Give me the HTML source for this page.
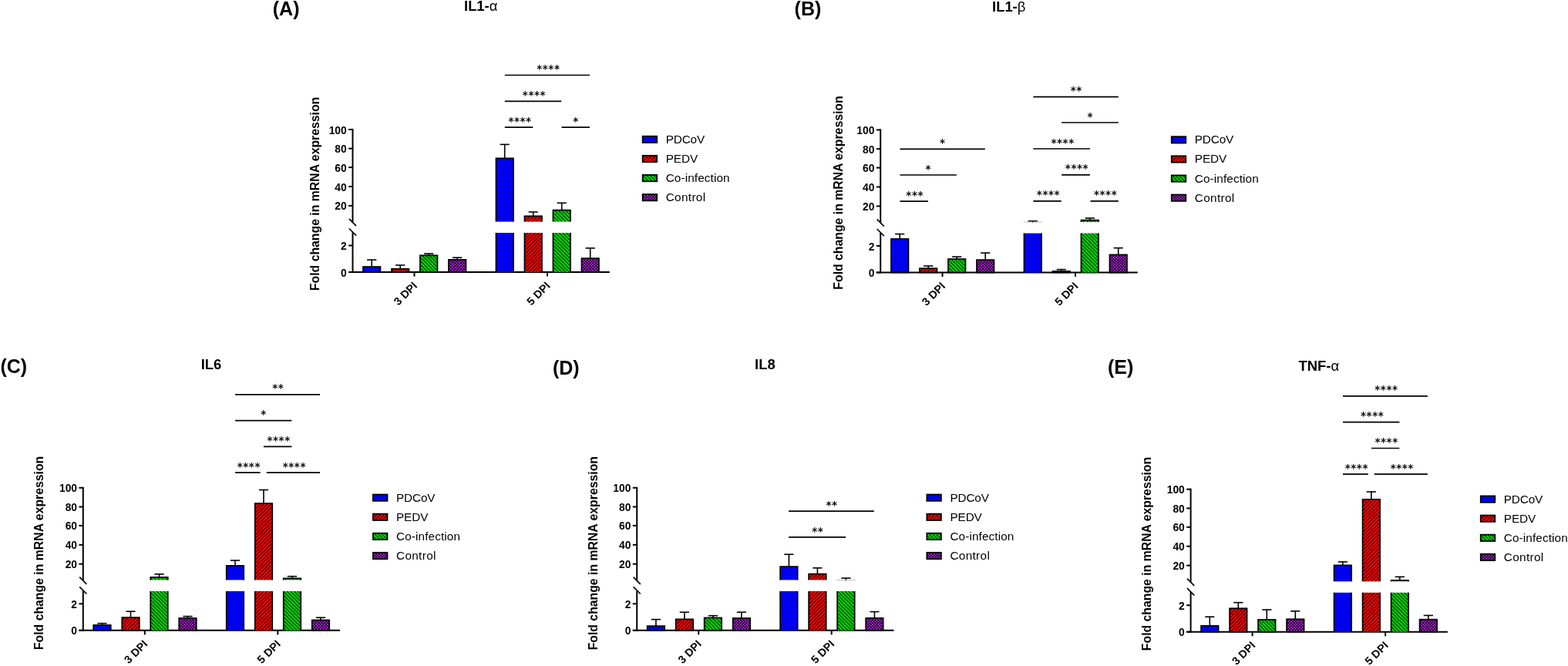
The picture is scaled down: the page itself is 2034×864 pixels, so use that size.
<!DOCTYPE html>
<html><head><meta charset="utf-8"><title>Cytokine expression</title>
<style>
html,body{margin:0;padding:0;background:#fff;}
svg{display:block;}
text{font-family:'Liberation Sans', Arial, sans-serif;fill:#000;}
.ax{stroke:#000;stroke-width:2.0;stroke-linecap:butt;}
.brk{stroke:#000;stroke-width:1.7;}
.eb{stroke:#000;stroke-width:1.6;}
.bar{stroke:#000;stroke-width:1.7;}
.sg{stroke:#000;stroke-width:1.7;}
.tk{font-weight:bold;font-size:13.8px;text-anchor:end;}
.xl{font-weight:bold;font-size:14.3px;text-anchor:end;}
.yl{font-weight:bold;font-size:15.8px;text-anchor:middle;}
.tt{font-weight:bold;font-size:18.4px;text-anchor:middle;}
.gr{font-weight:normal;}
.pl{font-weight:bold;font-size:25px;}
.lg{font-size:15.3px;}
.as{font-family:'DejaVu Sans', sans-serif;font-weight:bold;font-size:13.4px;text-anchor:middle;letter-spacing:0.55px;}
</style></head>
<body>
<svg width="2034" height="864" viewBox="0 0 2034 864">
<rect width="2034" height="864" fill="#fff"/>
<defs>
<pattern id="pBlue" patternUnits="userSpaceOnUse" width="3.76" height="7.52">
<rect width="3.76" height="7.52" fill="#0000ff"/>
<rect x="0.9" y="0.9" width="1.1" height="1.1" fill="#00006a"/>
<rect x="2.78" y="4.66" width="1.1" height="1.1" fill="#00006a"/>
</pattern>
<pattern id="pRed" patternUnits="userSpaceOnUse" width="4.7" height="4.7">
<rect width="4.7" height="4.7" fill="#ff0000"/>
<path d="M-1,1 L1,-1 M0,4.7 L4.7,0 M3.7,5.7 L5.7,3.7" stroke="#000" stroke-width="0.95"/>
</pattern>
<pattern id="pGreen" patternUnits="userSpaceOnUse" width="4.7" height="4.7">
<rect width="4.7" height="4.7" fill="#00dd00"/>
<path d="M-1,3.7 L1,5.7 M0,0 L4.7,4.7 M3.7,-1 L5.7,1" stroke="#000" stroke-width="0.95"/>
</pattern>
<pattern id="pPurple" patternUnits="userSpaceOnUse" width="3.72" height="3.72">
<rect width="3.72" height="3.72" fill="#c020f0"/>
<rect x="0" y="0" width="1.86" height="1.86" fill="#000"/>
<rect x="1.86" y="1.86" width="1.86" height="1.86" fill="#000"/>
</pattern>
</defs>
<g><line x1="457.5" y1="167" x2="457.5" y2="288.4" class="ax"/>
<line x1="457.5" y1="301.5" x2="457.5" y2="354" class="ax"/>
<line x1="452.9" y1="283.9" x2="462.1" y2="293.1" class="brk"/>
<line x1="452.9" y1="296.5" x2="462.1" y2="305.7" class="brk"/>
<line x1="452.1" y1="266.9" x2="457.5" y2="266.9" class="ax"/>
<text x="449.7" y="272.4" class="tk">20</text>
<line x1="452.1" y1="242" x2="457.5" y2="242" class="ax"/>
<text x="449.7" y="247.5" class="tk">40</text>
<line x1="452.1" y1="217.1" x2="457.5" y2="217.1" class="ax"/>
<text x="449.7" y="222.6" class="tk">60</text>
<line x1="452.1" y1="192.7" x2="457.5" y2="192.7" class="ax"/>
<text x="449.7" y="198.2" class="tk">80</text>
<line x1="452.1" y1="168" x2="457.5" y2="168" class="ax"/>
<text x="449.7" y="173.5" class="tk">100</text>
<line x1="452.1" y1="353" x2="457.5" y2="353" class="ax"/>
<text x="449.7" y="358.5" class="tk">0</text>
<line x1="452.1" y1="318.5" x2="457.5" y2="318.5" class="ax"/>
<text x="449.7" y="324" class="tk">2</text>
<line x1="452.1" y1="353" x2="790.8" y2="353" class="ax"/>
<line x1="537.5" y1="353" x2="537.5" y2="358.6" class="ax"/>
<text transform="translate(542.1,371.6) rotate(-45)" class="xl">3 DPI</text>
<line x1="710" y1="353" x2="710" y2="358.6" class="ax"/>
<text transform="translate(714.6,371.6) rotate(-45)" class="xl">5 DPI</text>
<line x1="482.2" y1="337.1" x2="482.2" y2="346.2" class="eb"/>
<line x1="476.1" y1="337.1" x2="488.3" y2="337.1" class="eb"/>
<rect x="470.95" y="346.05" width="22.5" height="6.95" fill="url(#pBlue)" class="bar"/>
<line x1="519.2" y1="344" x2="519.2" y2="348.9" class="eb"/>
<line x1="513.1" y1="344" x2="525.3" y2="344" class="eb"/>
<rect x="507.95" y="348.75" width="22.5" height="4.25" fill="url(#pRed)" class="bar"/>
<line x1="556.2" y1="329.1" x2="556.2" y2="331.5" class="eb"/>
<line x1="550.1" y1="329.1" x2="562.3" y2="329.1" class="eb"/>
<rect x="544.95" y="331.35" width="22.5" height="21.65" fill="url(#pGreen)" class="bar"/>
<line x1="593.2" y1="334.2" x2="593.2" y2="337" class="eb"/>
<line x1="587.1" y1="334.2" x2="599.3" y2="334.2" class="eb"/>
<rect x="581.95" y="336.85" width="22.5" height="16.15" fill="url(#pPurple)" class="bar"/>
<line x1="654.7" y1="187.4" x2="654.7" y2="205.6" class="eb"/>
<line x1="648.6" y1="187.4" x2="660.8" y2="187.4" class="eb"/>
<rect x="643.2" y="302.1" width="23" height="50.9" fill="url(#pBlue)"/>
<path d="M643.45,302.1 V353 M665.95,302.1 V353" class="bar" fill="none"/>
<rect x="643.2" y="205.2" width="23" height="82.4" fill="url(#pBlue)"/>
<path d="M643.45,287.6 V205.45 H665.95 V287.6" class="bar" fill="none"/>
<line x1="691.7" y1="275" x2="691.7" y2="280.6" class="eb"/>
<line x1="685.6" y1="275" x2="697.8" y2="275" class="eb"/>
<rect x="680.2" y="302.1" width="23" height="50.9" fill="url(#pRed)"/>
<path d="M680.45,302.1 V353 M702.95,302.1 V353" class="bar" fill="none"/>
<rect x="680.2" y="280.2" width="23" height="7.4" fill="url(#pRed)"/>
<path d="M680.45,287.6 V280.45 H702.95 V287.6" class="bar" fill="none"/>
<line x1="728.7" y1="263.3" x2="728.7" y2="272.7" class="eb"/>
<line x1="722.6" y1="263.3" x2="734.8" y2="263.3" class="eb"/>
<rect x="717.2" y="302.1" width="23" height="50.9" fill="url(#pGreen)"/>
<path d="M717.45,302.1 V353 M739.95,302.1 V353" class="bar" fill="none"/>
<rect x="717.2" y="272.3" width="23" height="15.3" fill="url(#pGreen)"/>
<path d="M717.45,287.6 V272.55 H739.95 V287.6" class="bar" fill="none"/>
<line x1="765.7" y1="321.9" x2="765.7" y2="335.3" class="eb"/>
<line x1="759.6" y1="321.9" x2="771.8" y2="321.9" class="eb"/>
<rect x="754.45" y="335.15" width="22.5" height="17.85" fill="url(#pPurple)" class="bar"/>
<line x1="654.8" y1="97.5" x2="765" y2="97.5" class="sg"/>
<text x="711.38" y="94.1" class="as">****</text>
<line x1="654.8" y1="131.3" x2="728.2" y2="131.3" class="sg"/>
<text x="692.98" y="127.9" class="as">****</text>
<line x1="654.8" y1="165.1" x2="691.3" y2="165.1" class="sg"/>
<text x="674.53" y="161.7" class="as">****</text>
<line x1="728.5" y1="165.1" x2="765" y2="165.1" class="sg"/>
<text x="747.03" y="161.7" class="as">*</text>
<rect x="833.65" y="176.75" width="18.5" height="8.3" fill="url(#pBlue)" stroke="#000" stroke-width="1.8"/>
<text x="863.7" y="185.8" class="lg" textLength="50.5" lengthAdjust="spacing">PDCoV</text>
<rect x="833.65" y="201.85" width="18.5" height="8.3" fill="url(#pRed)" stroke="#000" stroke-width="1.8"/>
<text x="863.7" y="210.9" class="lg" textLength="41.4" lengthAdjust="spacing">PEDV</text>
<rect x="833.65" y="226.95" width="18.5" height="8.3" fill="url(#pGreen)" stroke="#000" stroke-width="1.8"/>
<text x="863.7" y="236" class="lg" textLength="82.9" lengthAdjust="spacing">Co-infection</text>
<rect x="833.65" y="252.05" width="18.5" height="8.3" fill="url(#pPurple)" stroke="#000" stroke-width="1.8"/>
<text x="863.7" y="261.1" class="lg" textLength="51.4" lengthAdjust="spacing">Control</text>
<text transform="translate(413.6,251.4) rotate(-90)" class="yl">Fold change in mRNA expression</text>
<text x="623.7" y="14.3" class="tt">IL1-<tspan class="gr">α</tspan></text>
<text x="353.8" y="20" class="pl">(A)</text></g>
<g><line x1="1142.2" y1="167.5" x2="1142.2" y2="288.9" class="ax"/>
<line x1="1142.2" y1="302" x2="1142.2" y2="354.5" class="ax"/>
<line x1="1137.6" y1="284.4" x2="1146.8" y2="293.6" class="brk"/>
<line x1="1137.6" y1="297" x2="1146.8" y2="306.2" class="brk"/>
<line x1="1136.8" y1="267.4" x2="1142.2" y2="267.4" class="ax"/>
<text x="1134.4" y="272.9" class="tk">20</text>
<line x1="1136.8" y1="242.5" x2="1142.2" y2="242.5" class="ax"/>
<text x="1134.4" y="248" class="tk">40</text>
<line x1="1136.8" y1="217.6" x2="1142.2" y2="217.6" class="ax"/>
<text x="1134.4" y="223.1" class="tk">60</text>
<line x1="1136.8" y1="193.2" x2="1142.2" y2="193.2" class="ax"/>
<text x="1134.4" y="198.7" class="tk">80</text>
<line x1="1136.8" y1="168.5" x2="1142.2" y2="168.5" class="ax"/>
<text x="1134.4" y="174" class="tk">100</text>
<line x1="1136.8" y1="353.5" x2="1142.2" y2="353.5" class="ax"/>
<text x="1134.4" y="359" class="tk">0</text>
<line x1="1136.8" y1="319" x2="1142.2" y2="319" class="ax"/>
<text x="1134.4" y="324.5" class="tk">2</text>
<line x1="1136.8" y1="353.5" x2="1475.8" y2="353.5" class="ax"/>
<line x1="1222.5" y1="353.5" x2="1222.5" y2="359.1" class="ax"/>
<text transform="translate(1227.1,372.1) rotate(-45)" class="xl">3 DPI</text>
<line x1="1395" y1="353.5" x2="1395" y2="359.1" class="ax"/>
<text transform="translate(1399.6,372.1) rotate(-45)" class="xl">5 DPI</text>
<line x1="1167.2" y1="303.6" x2="1167.2" y2="310.1" class="eb"/>
<line x1="1161.1" y1="303.6" x2="1173.3" y2="303.6" class="eb"/>
<rect x="1155.95" y="309.95" width="22.5" height="43.55" fill="url(#pBlue)" class="bar"/>
<line x1="1204.2" y1="345" x2="1204.2" y2="348.3" class="eb"/>
<line x1="1198.1" y1="345" x2="1210.3" y2="345" class="eb"/>
<rect x="1192.95" y="348.15" width="22.5" height="5.35" fill="url(#pRed)" class="bar"/>
<line x1="1241.2" y1="333.1" x2="1241.2" y2="336.2" class="eb"/>
<line x1="1235.1" y1="333.1" x2="1247.3" y2="333.1" class="eb"/>
<rect x="1229.95" y="336.05" width="22.5" height="17.45" fill="url(#pGreen)" class="bar"/>
<line x1="1278.2" y1="328.1" x2="1278.2" y2="337.3" class="eb"/>
<line x1="1272.1" y1="328.1" x2="1284.3" y2="328.1" class="eb"/>
<rect x="1266.95" y="337.15" width="22.5" height="16.35" fill="url(#pPurple)" class="bar"/>
<line x1="1339.7" y1="286.8" x2="1339.7" y2="288.9" class="eb"/>
<line x1="1333.6" y1="286.8" x2="1345.8" y2="286.8" class="eb"/>
<rect x="1328.2" y="302.6" width="23" height="50.9" fill="url(#pBlue)"/>
<path d="M1328.45,302.6 V353.5 M1350.95,302.6 V353.5" class="bar" fill="none"/>
<line x1="1327.6" y1="288.1" x2="1351.8" y2="288.1" stroke="#bbb" stroke-width="1"/>
<line x1="1376.7" y1="349.6" x2="1376.7" y2="352" class="eb"/>
<line x1="1370.6" y1="349.6" x2="1382.8" y2="349.6" class="eb"/>
<rect x="1365.45" y="351.85" width="22.5" height="1.65" fill="url(#pRed)" class="bar"/>
<line x1="1413.7" y1="283" x2="1413.7" y2="285.8" class="eb"/>
<line x1="1407.6" y1="283" x2="1419.8" y2="283" class="eb"/>
<rect x="1402.2" y="302.6" width="23" height="50.9" fill="url(#pGreen)"/>
<path d="M1402.45,302.6 V353.5 M1424.95,302.6 V353.5" class="bar" fill="none"/>
<rect x="1402.2" y="285.4" width="23" height="2.7" fill="url(#pGreen)"/>
<path d="M1402.45,288.1 V285.65 H1424.95 V288.1" class="bar" fill="none"/>
<line x1="1450.7" y1="321.7" x2="1450.7" y2="330.6" class="eb"/>
<line x1="1444.6" y1="321.7" x2="1456.8" y2="321.7" class="eb"/>
<rect x="1439.45" y="330.45" width="22.5" height="23.05" fill="url(#pPurple)" class="bar"/>
<line x1="1167.4" y1="193.4" x2="1277.8" y2="193.4" class="sg"/>
<text x="1222.88" y="190" class="as">*</text>
<line x1="1167.4" y1="227" x2="1240.8" y2="227" class="sg"/>
<text x="1204.38" y="223.6" class="as">*</text>
<line x1="1167.4" y1="261.1" x2="1203.8" y2="261.1" class="sg"/>
<text x="1186.68" y="257.7" class="as">***</text>
<line x1="1340.3" y1="125.6" x2="1450.8" y2="125.6" class="sg"/>
<text x="1396.23" y="122.2" class="as">**</text>
<line x1="1377.1" y1="159" x2="1450.8" y2="159" class="sg"/>
<text x="1414.23" y="155.6" class="as">*</text>
<line x1="1340.3" y1="193" x2="1413.9" y2="193" class="sg"/>
<text x="1378.58" y="189.6" class="as">****</text>
<line x1="1377.1" y1="226.8" x2="1413.9" y2="226.8" class="sg"/>
<text x="1396.98" y="223.4" class="as">****</text>
<line x1="1340.3" y1="260.8" x2="1376.7" y2="260.8" class="sg"/>
<text x="1359.98" y="257.4" class="as">****</text>
<line x1="1414.5" y1="260.8" x2="1450.8" y2="260.8" class="sg"/>
<text x="1434.13" y="257.4" class="as">****</text>
<rect x="1519.75" y="177.25" width="18.5" height="8.3" fill="url(#pBlue)" stroke="#000" stroke-width="1.8"/>
<text x="1549.8" y="186.3" class="lg" textLength="50.5" lengthAdjust="spacing">PDCoV</text>
<rect x="1519.75" y="202.35" width="18.5" height="8.3" fill="url(#pRed)" stroke="#000" stroke-width="1.8"/>
<text x="1549.8" y="211.4" class="lg" textLength="41.4" lengthAdjust="spacing">PEDV</text>
<rect x="1519.75" y="227.45" width="18.5" height="8.3" fill="url(#pGreen)" stroke="#000" stroke-width="1.8"/>
<text x="1549.8" y="236.5" class="lg" textLength="82.9" lengthAdjust="spacing">Co-infection</text>
<rect x="1519.75" y="252.55" width="18.5" height="8.3" fill="url(#pPurple)" stroke="#000" stroke-width="1.8"/>
<text x="1549.8" y="261.6" class="lg" textLength="51.4" lengthAdjust="spacing">Control</text>
<text transform="translate(1092.5,250) rotate(-90)" class="yl">Fold change in mRNA expression</text>
<text x="1308.7" y="14.8" class="tt">IL1-<tspan class="gr">β</tspan></text>
<text x="1030.6" y="20" class="pl">(B)</text></g>
<g><line x1="107.8" y1="631.8" x2="107.8" y2="753.2" class="ax"/>
<line x1="107.8" y1="766.3" x2="107.8" y2="818.8" class="ax"/>
<line x1="103.2" y1="748.7" x2="112.4" y2="757.9" class="brk"/>
<line x1="103.2" y1="761.3" x2="112.4" y2="770.5" class="brk"/>
<line x1="102.4" y1="731.7" x2="107.8" y2="731.7" class="ax"/>
<text x="100" y="737.2" class="tk">20</text>
<line x1="102.4" y1="706.8" x2="107.8" y2="706.8" class="ax"/>
<text x="100" y="712.3" class="tk">40</text>
<line x1="102.4" y1="681.9" x2="107.8" y2="681.9" class="ax"/>
<text x="100" y="687.4" class="tk">60</text>
<line x1="102.4" y1="657.5" x2="107.8" y2="657.5" class="ax"/>
<text x="100" y="663" class="tk">80</text>
<line x1="102.4" y1="632.8" x2="107.8" y2="632.8" class="ax"/>
<text x="100" y="638.3" class="tk">100</text>
<line x1="102.4" y1="817.8" x2="107.8" y2="817.8" class="ax"/>
<text x="100" y="823.3" class="tk">0</text>
<line x1="102.4" y1="783.3" x2="107.8" y2="783.3" class="ax"/>
<text x="100" y="788.8" class="tk">2</text>
<line x1="102.4" y1="817.8" x2="441.1" y2="817.8" class="ax"/>
<line x1="187.8" y1="817.8" x2="187.8" y2="823.4" class="ax"/>
<text transform="translate(192.4,836.4) rotate(-45)" class="xl">3 DPI</text>
<line x1="360.3" y1="817.8" x2="360.3" y2="823.4" class="ax"/>
<text transform="translate(364.9,836.4) rotate(-45)" class="xl">5 DPI</text>
<line x1="132.5" y1="808.7" x2="132.5" y2="811.1" class="eb"/>
<line x1="126.4" y1="808.7" x2="138.6" y2="808.7" class="eb"/>
<rect x="121.25" y="810.95" width="22.5" height="6.85" fill="url(#pBlue)" class="bar"/>
<line x1="169.5" y1="793.2" x2="169.5" y2="801.2" class="eb"/>
<line x1="163.4" y1="793.2" x2="175.6" y2="793.2" class="eb"/>
<rect x="158.25" y="801.05" width="22.5" height="16.75" fill="url(#pRed)" class="bar"/>
<line x1="206.5" y1="744.8" x2="206.5" y2="749" class="eb"/>
<line x1="200.4" y1="744.8" x2="212.6" y2="744.8" class="eb"/>
<rect x="195" y="766.9" width="23" height="50.9" fill="url(#pGreen)"/>
<path d="M195.25,766.9 V817.8 M217.75,766.9 V817.8" class="bar" fill="none"/>
<rect x="195" y="748.6" width="23" height="3.8" fill="url(#pGreen)"/>
<path d="M195.25,752.4 V748.85 H217.75 V752.4" class="bar" fill="none"/>
<line x1="243.5" y1="799.6" x2="243.5" y2="802.1" class="eb"/>
<line x1="237.4" y1="799.6" x2="249.6" y2="799.6" class="eb"/>
<rect x="232.25" y="801.95" width="22.5" height="15.85" fill="url(#pPurple)" class="bar"/>
<line x1="305" y1="727" x2="305" y2="734.1" class="eb"/>
<line x1="298.9" y1="727" x2="311.1" y2="727" class="eb"/>
<rect x="293.5" y="766.9" width="23" height="50.9" fill="url(#pBlue)"/>
<path d="M293.75,766.9 V817.8 M316.25,766.9 V817.8" class="bar" fill="none"/>
<rect x="293.5" y="733.7" width="23" height="18.7" fill="url(#pBlue)"/>
<path d="M293.75,752.4 V733.95 H316.25 V752.4" class="bar" fill="none"/>
<line x1="342" y1="635.5" x2="342" y2="653.2" class="eb"/>
<line x1="335.9" y1="635.5" x2="348.1" y2="635.5" class="eb"/>
<rect x="330.5" y="766.9" width="23" height="50.9" fill="url(#pRed)"/>
<path d="M330.75,766.9 V817.8 M353.25,766.9 V817.8" class="bar" fill="none"/>
<rect x="330.5" y="652.8" width="23" height="99.6" fill="url(#pRed)"/>
<path d="M330.75,752.4 V653.05 H353.25 V752.4" class="bar" fill="none"/>
<line x1="379" y1="747.7" x2="379" y2="750.6" class="eb"/>
<line x1="372.9" y1="747.7" x2="385.1" y2="747.7" class="eb"/>
<rect x="367.5" y="766.9" width="23" height="50.9" fill="url(#pGreen)"/>
<path d="M367.75,766.9 V817.8 M390.25,766.9 V817.8" class="bar" fill="none"/>
<rect x="367.5" y="750.2" width="23" height="2.2" fill="url(#pGreen)"/>
<path d="M367.75,752.4 V750.45 H390.25 V752.4" class="bar" fill="none"/>
<line x1="416" y1="801.2" x2="416" y2="804.6" class="eb"/>
<line x1="409.9" y1="801.2" x2="422.1" y2="801.2" class="eb"/>
<rect x="404.75" y="804.45" width="22.5" height="13.35" fill="url(#pPurple)" class="bar"/>
<line x1="305.1" y1="511.8" x2="415" y2="511.8" class="sg"/>
<text x="360.73" y="508.4" class="as">**</text>
<line x1="305.1" y1="545.7" x2="378.4" y2="545.7" class="sg"/>
<text x="342.03" y="542.3" class="as">*</text>
<line x1="341.9" y1="579.3" x2="378.4" y2="579.3" class="sg"/>
<text x="361.63" y="575.9" class="as">****</text>
<line x1="305.1" y1="613.1" x2="337.6" y2="613.1" class="sg"/>
<text x="322.83" y="609.7" class="as">****</text>
<line x1="345.7" y1="613.1" x2="415" y2="613.1" class="sg"/>
<text x="381.83" y="609.7" class="as">****</text>
<rect x="483.95" y="641.55" width="18.5" height="8.3" fill="url(#pBlue)" stroke="#000" stroke-width="1.8"/>
<text x="514" y="650.6" class="lg" textLength="50.5" lengthAdjust="spacing">PDCoV</text>
<rect x="483.95" y="666.65" width="18.5" height="8.3" fill="url(#pRed)" stroke="#000" stroke-width="1.8"/>
<text x="514" y="675.7" class="lg" textLength="41.4" lengthAdjust="spacing">PEDV</text>
<rect x="483.95" y="691.75" width="18.5" height="8.3" fill="url(#pGreen)" stroke="#000" stroke-width="1.8"/>
<text x="514" y="700.8" class="lg" textLength="82.9" lengthAdjust="spacing">Co-infection</text>
<rect x="483.95" y="716.85" width="18.5" height="8.3" fill="url(#pPurple)" stroke="#000" stroke-width="1.8"/>
<text x="514" y="725.9" class="lg" textLength="51.4" lengthAdjust="spacing">Control</text>
<text transform="translate(56,717.4) rotate(-90)" class="yl">Fold change in mRNA expression</text>
<text x="274" y="479.1" class="tt">IL6</text>
<text x="0.4" y="484.2" class="pl">(C)</text></g>
<g><line x1="826.2" y1="631.8" x2="826.2" y2="753.2" class="ax"/>
<line x1="826.2" y1="766.3" x2="826.2" y2="818.8" class="ax"/>
<line x1="821.6" y1="748.7" x2="830.8" y2="757.9" class="brk"/>
<line x1="821.6" y1="761.3" x2="830.8" y2="770.5" class="brk"/>
<line x1="820.8" y1="731.7" x2="826.2" y2="731.7" class="ax"/>
<text x="818.4" y="737.2" class="tk">20</text>
<line x1="820.8" y1="706.8" x2="826.2" y2="706.8" class="ax"/>
<text x="818.4" y="712.3" class="tk">40</text>
<line x1="820.8" y1="681.9" x2="826.2" y2="681.9" class="ax"/>
<text x="818.4" y="687.4" class="tk">60</text>
<line x1="820.8" y1="657.5" x2="826.2" y2="657.5" class="ax"/>
<text x="818.4" y="663" class="tk">80</text>
<line x1="820.8" y1="632.8" x2="826.2" y2="632.8" class="ax"/>
<text x="818.4" y="638.3" class="tk">100</text>
<line x1="820.8" y1="817.8" x2="826.2" y2="817.8" class="ax"/>
<text x="818.4" y="823.3" class="tk">0</text>
<line x1="820.8" y1="783.3" x2="826.2" y2="783.3" class="ax"/>
<text x="818.4" y="788.8" class="tk">2</text>
<line x1="820.8" y1="817.8" x2="1159.5" y2="817.8" class="ax"/>
<line x1="906.2" y1="817.8" x2="906.2" y2="823.4" class="ax"/>
<text transform="translate(910.8,836.4) rotate(-45)" class="xl">3 DPI</text>
<line x1="1078.7" y1="817.8" x2="1078.7" y2="823.4" class="ax"/>
<text transform="translate(1083.3,836.4) rotate(-45)" class="xl">5 DPI</text>
<line x1="850.9" y1="803.6" x2="850.9" y2="812.3" class="eb"/>
<line x1="844.8" y1="803.6" x2="857" y2="803.6" class="eb"/>
<rect x="839.65" y="812.15" width="22.5" height="5.65" fill="url(#pBlue)" class="bar"/>
<line x1="887.9" y1="794.2" x2="887.9" y2="803.5" class="eb"/>
<line x1="881.8" y1="794.2" x2="894" y2="794.2" class="eb"/>
<rect x="876.65" y="803.35" width="22.5" height="14.45" fill="url(#pRed)" class="bar"/>
<line x1="924.9" y1="798.7" x2="924.9" y2="801.6" class="eb"/>
<line x1="918.8" y1="798.7" x2="931" y2="798.7" class="eb"/>
<rect x="913.65" y="801.45" width="22.5" height="16.35" fill="url(#pGreen)" class="bar"/>
<line x1="961.9" y1="794.2" x2="961.9" y2="802.1" class="eb"/>
<line x1="955.8" y1="794.2" x2="968" y2="794.2" class="eb"/>
<rect x="950.65" y="801.95" width="22.5" height="15.85" fill="url(#pPurple)" class="bar"/>
<line x1="1023.4" y1="719.2" x2="1023.4" y2="735.3" class="eb"/>
<line x1="1017.3" y1="719.2" x2="1029.5" y2="719.2" class="eb"/>
<rect x="1011.9" y="766.9" width="23" height="50.9" fill="url(#pBlue)"/>
<path d="M1012.15,766.9 V817.8 M1034.65,766.9 V817.8" class="bar" fill="none"/>
<rect x="1011.9" y="734.9" width="23" height="17.5" fill="url(#pBlue)"/>
<path d="M1012.15,752.4 V735.15 H1034.65 V752.4" class="bar" fill="none"/>
<line x1="1060.4" y1="736.8" x2="1060.4" y2="744.7" class="eb"/>
<line x1="1054.3" y1="736.8" x2="1066.5" y2="736.8" class="eb"/>
<rect x="1048.9" y="766.9" width="23" height="50.9" fill="url(#pRed)"/>
<path d="M1049.15,766.9 V817.8 M1071.65,766.9 V817.8" class="bar" fill="none"/>
<rect x="1048.9" y="744.3" width="23" height="8.1" fill="url(#pRed)"/>
<path d="M1049.15,752.4 V744.55 H1071.65 V752.4" class="bar" fill="none"/>
<line x1="1097.4" y1="750" x2="1097.4" y2="753.5" class="eb"/>
<line x1="1091.3" y1="750" x2="1103.5" y2="750" class="eb"/>
<rect x="1085.9" y="766.9" width="23" height="50.9" fill="url(#pGreen)"/>
<path d="M1086.15,766.9 V817.8 M1108.65,766.9 V817.8" class="bar" fill="none"/>
<line x1="1085.3" y1="752.4" x2="1109.5" y2="752.4" stroke="#bbb" stroke-width="1"/>
<line x1="1134.4" y1="793.6" x2="1134.4" y2="802" class="eb"/>
<line x1="1128.3" y1="793.6" x2="1140.5" y2="793.6" class="eb"/>
<rect x="1123.15" y="801.85" width="22.5" height="15.95" fill="url(#pPurple)" class="bar"/>
<line x1="1023" y1="663.1" x2="1133.8" y2="663.1" class="sg"/>
<text x="1079.08" y="659.7" class="as">**</text>
<line x1="1023" y1="696.9" x2="1097" y2="696.9" class="sg"/>
<text x="1060.68" y="693.5" class="as">**</text>
<rect x="1202.35" y="641.55" width="18.5" height="8.3" fill="url(#pBlue)" stroke="#000" stroke-width="1.8"/>
<text x="1232.4" y="650.6" class="lg" textLength="50.5" lengthAdjust="spacing">PDCoV</text>
<rect x="1202.35" y="666.65" width="18.5" height="8.3" fill="url(#pRed)" stroke="#000" stroke-width="1.8"/>
<text x="1232.4" y="675.7" class="lg" textLength="41.4" lengthAdjust="spacing">PEDV</text>
<rect x="1202.35" y="691.75" width="18.5" height="8.3" fill="url(#pGreen)" stroke="#000" stroke-width="1.8"/>
<text x="1232.4" y="700.8" class="lg" textLength="82.9" lengthAdjust="spacing">Co-infection</text>
<rect x="1202.35" y="716.85" width="18.5" height="8.3" fill="url(#pPurple)" stroke="#000" stroke-width="1.8"/>
<text x="1232.4" y="725.9" class="lg" textLength="51.4" lengthAdjust="spacing">Control</text>
<text transform="translate(775.1,717.7) rotate(-90)" class="yl">Fold change in mRNA expression</text>
<text x="992.4" y="479.1" class="tt">IL8</text>
<text x="716.9" y="485.7" class="pl">(D)</text></g>
<g><line x1="1544.6" y1="633.7" x2="1544.6" y2="755.1" class="ax"/>
<line x1="1544.6" y1="768.2" x2="1544.6" y2="820.7" class="ax"/>
<line x1="1540" y1="750.6" x2="1549.2" y2="759.8" class="brk"/>
<line x1="1540" y1="763.2" x2="1549.2" y2="772.4" class="brk"/>
<line x1="1539.2" y1="733.6" x2="1544.6" y2="733.6" class="ax"/>
<text x="1536.8" y="739.1" class="tk">20</text>
<line x1="1539.2" y1="708.7" x2="1544.6" y2="708.7" class="ax"/>
<text x="1536.8" y="714.2" class="tk">40</text>
<line x1="1539.2" y1="683.8" x2="1544.6" y2="683.8" class="ax"/>
<text x="1536.8" y="689.3" class="tk">60</text>
<line x1="1539.2" y1="659.4" x2="1544.6" y2="659.4" class="ax"/>
<text x="1536.8" y="664.9" class="tk">80</text>
<line x1="1539.2" y1="634.7" x2="1544.6" y2="634.7" class="ax"/>
<text x="1536.8" y="640.2" class="tk">100</text>
<line x1="1539.2" y1="819.7" x2="1544.6" y2="819.7" class="ax"/>
<text x="1536.8" y="825.2" class="tk">0</text>
<line x1="1539.2" y1="785.2" x2="1544.6" y2="785.2" class="ax"/>
<text x="1536.8" y="790.7" class="tk">2</text>
<line x1="1539.2" y1="819.7" x2="1877.9" y2="819.7" class="ax"/>
<line x1="1624.6" y1="819.7" x2="1624.6" y2="825.3" class="ax"/>
<text transform="translate(1629.2,838.3) rotate(-45)" class="xl">3 DPI</text>
<line x1="1797.1" y1="819.7" x2="1797.1" y2="825.3" class="ax"/>
<text transform="translate(1801.7,838.3) rotate(-45)" class="xl">5 DPI</text>
<line x1="1569.3" y1="800.2" x2="1569.3" y2="812" class="eb"/>
<line x1="1563.2" y1="800.2" x2="1575.4" y2="800.2" class="eb"/>
<rect x="1558.05" y="811.85" width="22.5" height="7.85" fill="url(#pBlue)" class="bar"/>
<line x1="1606.3" y1="781.7" x2="1606.3" y2="789.4" class="eb"/>
<line x1="1600.2" y1="781.7" x2="1612.4" y2="781.7" class="eb"/>
<rect x="1595.05" y="789.25" width="22.5" height="30.45" fill="url(#pRed)" class="bar"/>
<line x1="1643.3" y1="791" x2="1643.3" y2="804" class="eb"/>
<line x1="1637.2" y1="791" x2="1649.4" y2="791" class="eb"/>
<rect x="1632.05" y="803.85" width="22.5" height="15.85" fill="url(#pGreen)" class="bar"/>
<line x1="1680.3" y1="792.8" x2="1680.3" y2="803.4" class="eb"/>
<line x1="1674.2" y1="792.8" x2="1686.4" y2="792.8" class="eb"/>
<rect x="1669.05" y="803.25" width="22.5" height="16.45" fill="url(#pPurple)" class="bar"/>
<line x1="1741.8" y1="728.9" x2="1741.8" y2="733.4" class="eb"/>
<line x1="1735.7" y1="728.9" x2="1747.9" y2="728.9" class="eb"/>
<rect x="1730.3" y="768.8" width="23" height="50.9" fill="url(#pBlue)"/>
<path d="M1730.55,768.8 V819.7 M1753.05,768.8 V819.7" class="bar" fill="none"/>
<rect x="1730.3" y="733" width="23" height="21.3" fill="url(#pBlue)"/>
<path d="M1730.55,754.3 V733.25 H1753.05 V754.3" class="bar" fill="none"/>
<line x1="1778.8" y1="638" x2="1778.8" y2="647.9" class="eb"/>
<line x1="1772.7" y1="638" x2="1784.9" y2="638" class="eb"/>
<rect x="1767.3" y="768.8" width="23" height="50.9" fill="url(#pRed)"/>
<path d="M1767.55,768.8 V819.7 M1790.05,768.8 V819.7" class="bar" fill="none"/>
<rect x="1767.3" y="647.5" width="23" height="106.8" fill="url(#pRed)"/>
<path d="M1767.55,754.3 V647.75 H1790.05 V754.3" class="bar" fill="none"/>
<line x1="1815.8" y1="748.3" x2="1815.8" y2="753" class="eb"/>
<line x1="1809.7" y1="748.3" x2="1821.9" y2="748.3" class="eb"/>
<rect x="1804.3" y="768.8" width="23" height="50.9" fill="url(#pGreen)"/>
<path d="M1804.55,768.8 V819.7 M1827.05,768.8 V819.7" class="bar" fill="none"/>
<rect x="1804.3" y="752.6" width="23" height="1.7" fill="url(#pGreen)"/>
<path d="M1804.55,754.3 V752.85 H1827.05 V754.3" class="bar" fill="none"/>
<line x1="1852.8" y1="798.4" x2="1852.8" y2="803.8" class="eb"/>
<line x1="1846.7" y1="798.4" x2="1858.9" y2="798.4" class="eb"/>
<rect x="1841.55" y="803.65" width="22.5" height="16.05" fill="url(#pPurple)" class="bar"/>
<line x1="1742" y1="513.8" x2="1851.9" y2="513.8" class="sg"/>
<text x="1798.43" y="510.4" class="as">****</text>
<line x1="1742" y1="547.7" x2="1815.4" y2="547.7" class="sg"/>
<text x="1780.18" y="544.3" class="as">****</text>
<line x1="1778.9" y1="581.5" x2="1815.4" y2="581.5" class="sg"/>
<text x="1798.63" y="578.1" class="as">****</text>
<line x1="1742" y1="615.2" x2="1774.7" y2="615.2" class="sg"/>
<text x="1759.83" y="611.8" class="as">****</text>
<line x1="1782.7" y1="615.2" x2="1851.9" y2="615.2" class="sg"/>
<text x="1818.78" y="611.8" class="as">****</text>
<rect x="1920.75" y="643.45" width="18.5" height="8.3" fill="url(#pBlue)" stroke="#000" stroke-width="1.8"/>
<text x="1950.8" y="652.5" class="lg" textLength="50.5" lengthAdjust="spacing">PDCoV</text>
<rect x="1920.75" y="668.55" width="18.5" height="8.3" fill="url(#pRed)" stroke="#000" stroke-width="1.8"/>
<text x="1950.8" y="677.6" class="lg" textLength="41.4" lengthAdjust="spacing">PEDV</text>
<rect x="1920.75" y="693.65" width="18.5" height="8.3" fill="url(#pGreen)" stroke="#000" stroke-width="1.8"/>
<text x="1950.8" y="702.7" class="lg" textLength="82.9" lengthAdjust="spacing">Co-infection</text>
<rect x="1920.75" y="718.75" width="18.5" height="8.3" fill="url(#pPurple)" stroke="#000" stroke-width="1.8"/>
<text x="1950.8" y="727.8" class="lg" textLength="51.4" lengthAdjust="spacing">Control</text>
<text transform="translate(1493.4,718.5) rotate(-90)" class="yl">Fold change in mRNA expression</text>
<text x="1710.8" y="481" class="tt">TNF-<tspan class="gr">α</tspan></text>
<text x="1436.9" y="484.7" class="pl">(E)</text></g>
</svg>
</body></html>
